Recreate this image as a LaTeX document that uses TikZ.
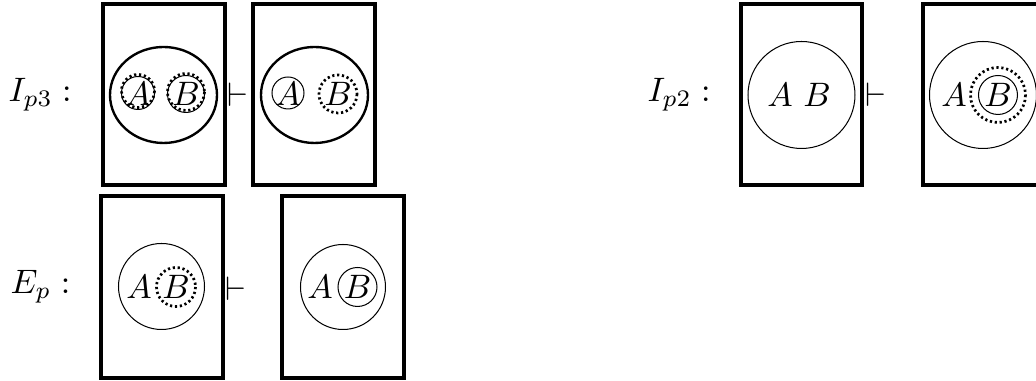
\documentclass[tikz,border=0pt]{standalone}
\usepackage{tikz}
\tikzset{
	box/.style={line width=0.9pt},
	bigring/.style={line width=0.7pt},
	ring/.style={line width=0.3pt},
	dotring/.style={line width=0.8pt, dash pattern=on 0.65pt off 0.8pt},
	letter/.style={inner sep=0pt}
}
\begin{document}
\begin{tikzpicture}[x=0.295pt, y=-0.295pt]
			%%%%% START %%%%%
			\useasboundingbox (0, 0) rectangle (1036, 381);
			
			% I_p3
			\node[letter, anchor=west] (lblIthree) at (8, 95) {$I_{p3}:$};
			
			\draw[box] (103, 4) rectangle (225, 185);
			\draw[bigring] (163.5, 95) ellipse (53.5 and 48);
			\draw[ring] (138, 93) circle (16.5);
			\draw[dotring] (138, 91) circle (16.5);
			\draw[ring] (186, 94) circle (18.5);
			\draw[dotring] (186, 92) circle (18.5);
			\node[letter] (aOne) at (138, 94) {$A$};
			\node[letter] (bOne) at (186, 94) {$B$};
			
			\node[letter] (vdOne) at (238, 95) {$\vdash$};
			
			\draw[box] (253, 4) rectangle (375, 185);
			\draw[bigring] (314.5, 95) ellipse (53.5 and 48);
			\draw[ring] (288, 93) circle (16);
			\draw[dotring] (338, 94) circle (19);
			\node[letter] (aTwo) at (288, 94) {$A$};
			\node[letter] (bTwo) at (338, 94) {$B$};
			
			% E_p
			\node[letter, anchor=west] (lblE) at (10, 287) {$E_{p}:$};
			
			\draw[box] (101, 196) rectangle (223, 378);
			\draw[ring] (161.5, 286.5) circle (43);
			\draw[dotring] (176, 287) circle (19.5);
			\node[letter] (aThree) at (139, 287) {$A$};
			\node[letter] (bThree) at (176, 287) {$B$};
			
			\node[letter] (vdTwo) at (236, 289) {$\vdash$};
			
			\draw[box] (282, 196) rectangle (404, 378);
			\draw[ring] (343, 287) circle (42.5);
			\draw[ring] (357.5, 287) circle (19.5);
			\node[letter] (aFour) at (320, 287) {$A$};
			\node[letter] (bFour) at (357.5, 287) {$B$};
			
			% I_p2
			\node[letter, anchor=west] (lblItwo) at (647, 95) {$I_{p2}:$};
			
			\draw[box] (741, 4) rectangle (862, 185);
			\draw[ring] (801.5, 95) circle (53.5);
			\node[letter] (aFive) at (780, 95) {$A$};
			\node[letter] (bFive) at (817, 95) {$B$};
			
			\node[letter] (vdThree) at (876, 95) {$\vdash$};
			
			\draw[box] (923, 4) rectangle (1045, 185);
			\draw[ring] (983, 95) circle (53.5);
			\draw[ring] (998, 95) circle (19.5);
			\draw[dotring] (998, 95) circle (27.5);
			\node[letter] (aSix) at (954, 95) {$A$};
			\node[letter] (bSix) at (998, 95) {$B$};
			
			%%%%% END %%%%%
\end{tikzpicture}
\end{document}
